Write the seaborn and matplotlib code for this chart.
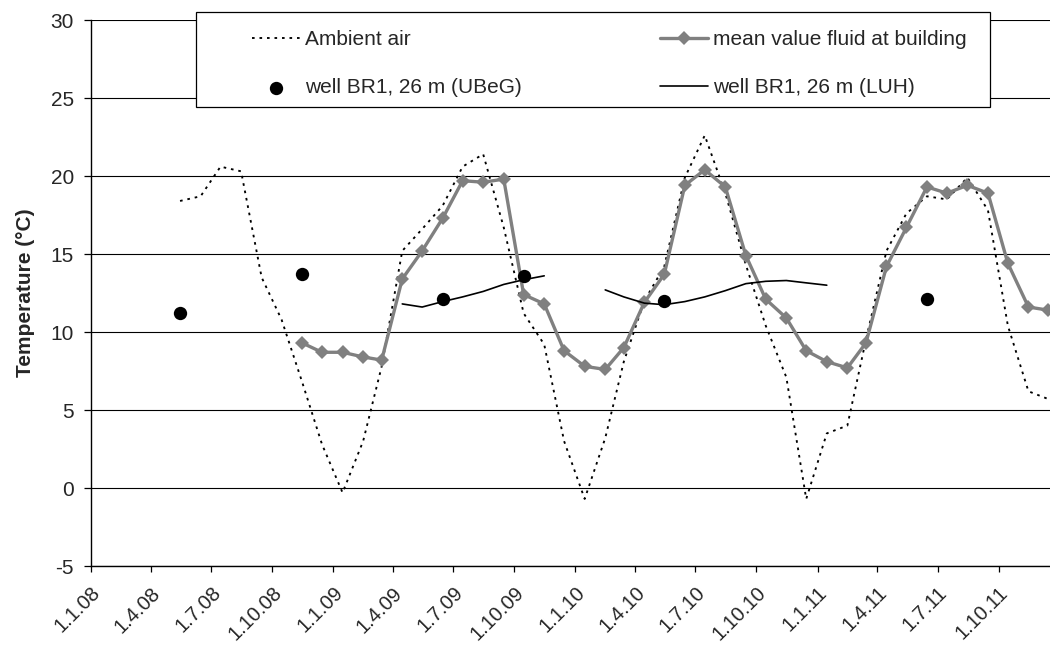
import numpy as np
import pandas as pd
import matplotlib
matplotlib.use("Agg")
import matplotlib.pyplot as plt
import matplotlib.dates as mdates
from matplotlib.patches import Rectangle
import seaborn as sns

# ---------------- data ----------------
ambient_start = "2008-05"
ambient_air = [18.4, 18.7, 20.6, 20.3, 13.5, 10.8, 6.8, 2.8,
               -0.3, 3.0, 7.8, 15.2, 16.6, 18.1, 20.6, 21.4, 16.7, 11.2, 9.2, 3.0,
               -0.7, 3.2, 8.1, 12.0, 14.2, 19.9, 22.6, 18.9, 14.3, 10.4, 7.1, -0.7,
               3.5, 4.0, 9.5, 15.2, 17.6, 18.7, 18.5, 19.9, 17.8, 10.4, 6.2, 5.7]

fluid_start = "2008-11"
fluid_building = [9.3, 8.7, 8.7, 8.4, 8.2,
                  13.4, 15.2, 17.3, 19.7, 19.6, 19.8, 12.4, 11.8, 8.8,
                  7.8, 7.6, 9.0, 11.9, 13.7, 19.4, 20.4, 19.3, 14.9, 12.1, 10.9, 8.8,
                  8.1, 7.7, 9.3, 14.2, 16.7, 19.3, 18.9, 19.4, 18.9, 14.4, 11.6, 11.4]

luh_seg1_start = "2009-04"
luh_seg1 = [11.8, 11.6, 11.95, 12.25, 12.6, 13.05, 13.35, 13.6]
luh_seg2_start = "2010-02"
luh_seg2 = [12.7, 12.25, 11.85, 11.75, 11.95, 12.25, 12.65, 13.1, 13.25, 13.3, 13.15, 13.0]

ubeg_dates = ["2008-05-15", "2008-11-15", "2009-06-15", "2009-10-15", "2010-05-15", "2011-06-15"]
ubeg_values = [11.2, 13.7, 12.1, 13.6, 12.0, 12.1]

tick_dates = ["2008-01-01", "2008-04-01", "2008-07-01", "2008-10-01",
              "2009-01-01", "2009-04-01", "2009-07-01", "2009-10-01",
              "2010-01-01", "2010-04-01", "2010-07-01", "2010-10-01",
              "2011-01-01", "2011-04-01", "2011-07-01", "2011-10-01"]
tick_labels = ["1.1.08", "1.4.08", "1.7.08", "1.10.08",
               "1.1.09", "1.4.09", "1.7.09", "1.10.09",
               "1.1.10", "1.4.10", "1.7.10", "1.10.10",
               "1.1.11", "1.4.11", "1.7.11", "1.10.11"]

labels = ["Ambient air", "mean value fluid at building",
          "well BR1, 26 m (UBeG)", "well BR1, 26 m (LUH)"]


def monthly(start, n):
    return pd.date_range(start=start + "-01", periods=n, freq="MS") + pd.Timedelta(days=14)


df_amb = pd.DataFrame({"date": monthly(ambient_start, len(ambient_air)), "temp": ambient_air})
df_fluid = pd.DataFrame({"date": monthly(fluid_start, len(fluid_building)), "temp": fluid_building})
df_luh = pd.concat([
    pd.DataFrame({"date": monthly(luh_seg1_start, len(luh_seg1)), "temp": luh_seg1, "seg": 1}),
    pd.DataFrame({"date": monthly(luh_seg2_start, len(luh_seg2)), "temp": luh_seg2, "seg": 2}),
], ignore_index=True)
df_ubeg = pd.DataFrame({"date": pd.to_datetime(ubeg_dates), "temp": ubeg_values})

# ---------------- style ----------------
sns.set_theme(style="white")
plt.rcParams["font.family"] = ["Liberation Sans", "DejaVu Sans"]
plt.rcParams["axes.unicode_minus"] = False
FS = 15

W, H = 1050, 650
fig = plt.figure(figsize=(W / 100, H / 100), dpi=100)
fig.patch.set_facecolor("white")
ax = fig.add_axes([90.5 / W, 1 - 566 / H, (W - 90.5) / W, (566 - 20) / H])

dotted = (0, (1.4, 2.6))
sns.lineplot(data=df_amb, x="date", y="temp", ax=ax, color="black", lw=1.35,
             linestyle=dotted, estimator=None, errorbar=None, zorder=2)
sns.lineplot(data=df_fluid, x="date", y="temp", ax=ax, color="#808080", lw=2.4,
             marker="D", markersize=7, markeredgewidth=0, estimator=None,
             errorbar=None, zorder=3)
sns.lineplot(data=df_luh, x="date", y="temp", units="seg", ax=ax, color="black",
             lw=1.2, estimator=None, errorbar=None, zorder=4)
sns.scatterplot(data=df_ubeg, x="date", y="temp", ax=ax, color="black", s=92,
                linewidth=0, zorder=5)
if ax.get_legend() is not None:
    ax.get_legend().remove()

# axes
ax.set_ylim(-5, 30)
ax.set_yticks(np.arange(-5, 31, 5))
ax.set_xlim(mdates.date2num(pd.Timestamp("2008-01-01")),
            mdates.date2num(pd.Timestamp("2011-12-17 12:00")))
ax.set_xticks(mdates.date2num(pd.to_datetime(tick_dates)))
ax.set_xticklabels(tick_labels)
ax.grid(axis="y", color="black", lw=0.8)
ax.grid(axis="x", visible=False)
ax.set_axisbelow(True)
for s in ["top", "right"]:
    ax.spines[s].set_visible(False)
for s in ["left", "bottom"]:
    ax.spines[s].set_color("black")
    ax.spines[s].set_linewidth(1.0)
ax.tick_params(axis="y", direction="out", length=5, width=0.9, color="black",
               labelsize=FS, pad=7, left=True)
ax.tick_params(axis="x", direction="out", length=4.5, width=0.9, color="black",
               labelsize=14.5, pad=8, bottom=True)
for lab in ax.get_xticklabels():
    lab.set_rotation(45)
    lab.set_ha("right")
    lab.set_va("top")
    lab.set_rotation_mode("anchor")
ax.set_xlabel("")
ax.set_ylabel("Temperature (°C)", fontsize=FS, fontweight="bold")
ax.yaxis.set_label_coords((35 - 90.5) / (W - 90.5), 0.5)

# legend
h_amb = ax.lines[0]
h_fluid = ax.lines[1]
h_luh = ax.lines[2]
h_ubeg = ax.collections[-1]

rect = Rectangle((196 / W, 1 - 107 / H), (990 - 196) / W, (107 - 12) / H,
                 transform=fig.transFigure, facecolor="white", edgecolor="black",
                 lw=0.9, zorder=4)
fig.add_artist(rect)

common = dict(frameon=False, fontsize=FS, borderpad=0, borderaxespad=0,
              handlelength=2.3, handletextpad=0.25, labelspacing=1.4,
              loc="upper left", bbox_transform=fig.transFigure)
leg1 = fig.legend([h_amb, h_ubeg], [labels[0], labels[2]],
                  bbox_to_anchor=(252 / W, 1 - 30 / H), **common)
leg2 = fig.legend([h_fluid, h_luh], [labels[1], labels[3]],
                  bbox_to_anchor=(660 / W, 1 - 30 / H), **common)
leg1.set_zorder(6)
leg2.set_zorder(6)

fig.savefig("out.png", dpi=100, facecolor="white")
